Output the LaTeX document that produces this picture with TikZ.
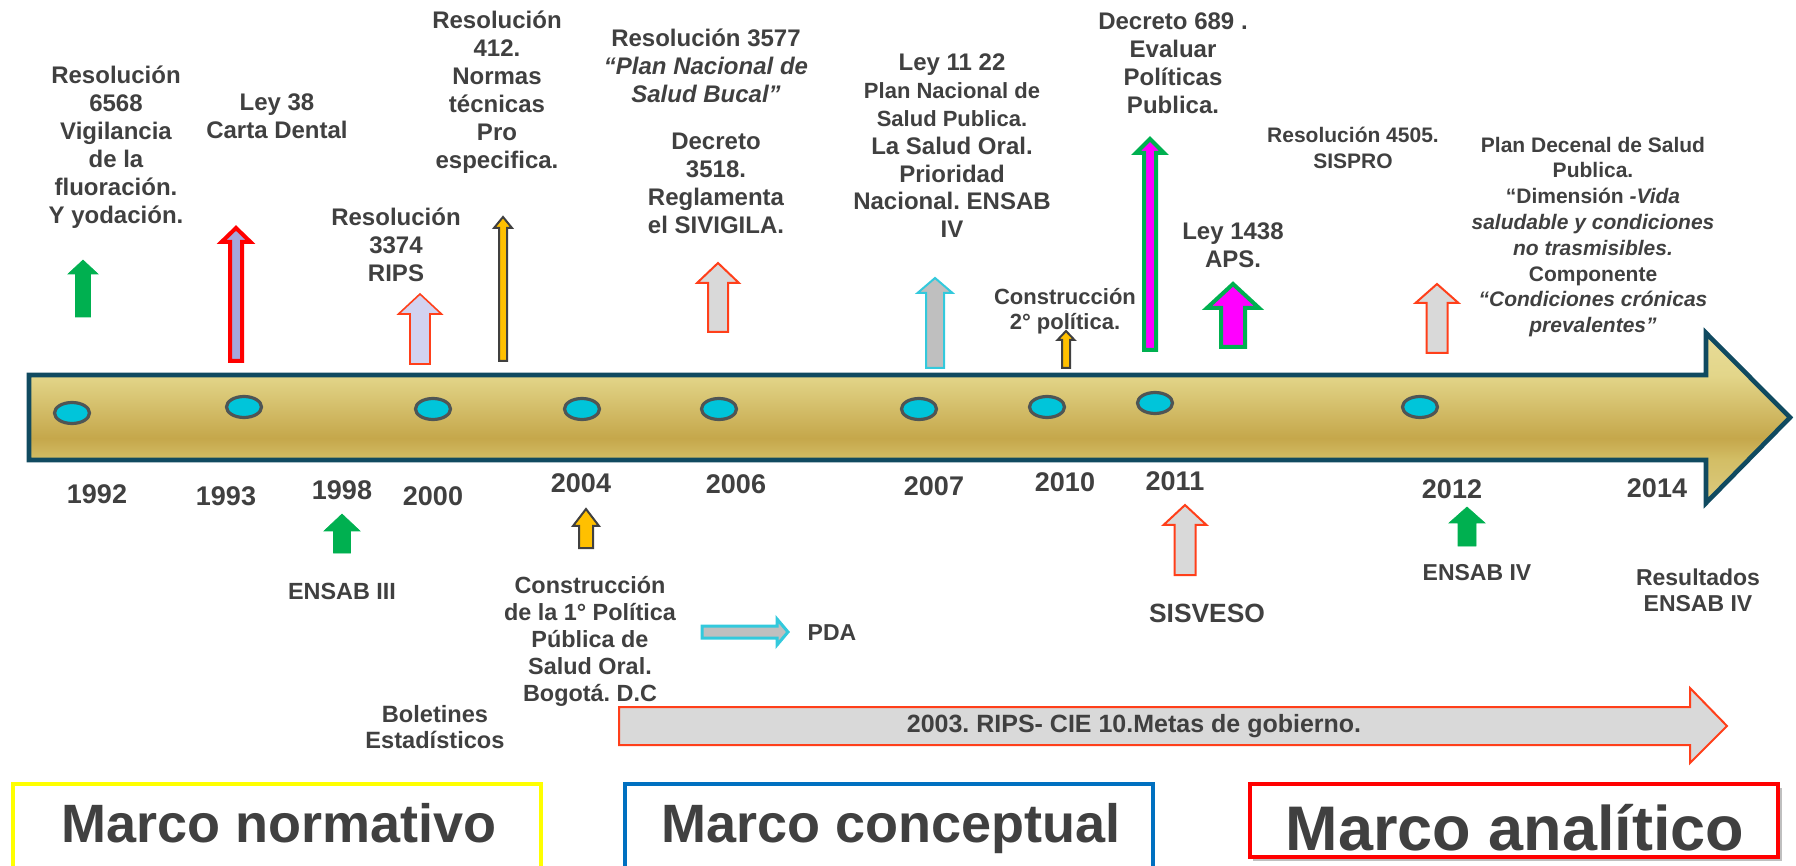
\documentclass[tikz,border=0pt]{standalone}
\usepackage{fontspec}
\setmainfont{Liberation Sans}
\usetikzlibrary{shapes.geometric}
\frenchspacing

\definecolor{txt}{HTML}{404040}
\definecolor{goldtop}{HTML}{E8DC98}
\definecolor{goldlight}{HTML}{E3D68A}
\definecolor{golddark}{HTML}{C5A74B}
\definecolor{goldlow}{HTML}{D3BE66}
\definecolor{goldbot}{HTML}{DCCB80}
\definecolor{barline}{HTML}{104A60}
\definecolor{dotfill}{HTML}{00C5DA}
\definecolor{dotline}{HTML}{4F5555}
\definecolor{agreen}{HTML}{00B050}
\definecolor{ared}{HTML}{FF0000}
\definecolor{aorange}{HTML}{FF3F1A}
\definecolor{alav}{HTML}{A6A6DC}
\definecolor{alavlight}{HTML}{D2D2F0}
\definecolor{agray}{HTML}{D9D9D9}
\definecolor{amidgray}{HTML}{BFBFBF}
\definecolor{acyan}{HTML}{33C9DC}
\definecolor{agold}{HTML}{FFC000}
\definecolor{amag}{HTML}{FF00FF}
\definecolor{boxyellow}{HTML}{FFFF00}
\definecolor{boxblue}{HTML}{0070C0}

\pgfdeclareverticalshading{goldbar}{100bp}{color(0bp)=(goldbot); color(25bp)=(goldbot); color(37.6bp)=(goldlow); color(44.1bp)=(golddark); color(62.6bp)=(goldlight); color(75bp)=(goldtop); color(100bp)=(goldtop)}

\newcommand{\fs}[2]{\fontsize{#1}{#2}\selectfont}
% block arrow pointing up: style, x, y bottom, y head base, y tip, half shaft, half head
\newcommand{\blkup}[7]{\draw[#1] (#2-#6,#3) -- (#2-#6,#4) -- (#2-#7,#4) -- (#2,#5) -- (#2+#7,#4) -- (#2+#6,#4) -- (#2+#6,#3) -- cycle;}

\tikzset{
  lbl/.style={text=txt, font=\bfseries\fs{12}{14}, align=center, inner sep=0pt},
  yr/.style={lbl, font=\bfseries\fs{13.5}{16}},
  sm/.style={lbl, font=\bfseries\fs{10.5}{12.9}},
  dot/.style={ellipse, draw=dotline, fill=dotfill, line width=1.6pt, minimum width=17.5pt, minimum height=10.5pt, inner sep=0pt},
  marco/.style={text=txt, font=\bfseries\fs{27}{30}, inner sep=0pt, anchor=base},
  grn/.style={fill=agreen, draw=agreen, line width=0.3pt},
  redlav/.style={fill=alav, draw=ared, line width=2pt},
  orlav/.style={fill=alavlight, draw=aorange, line width=0.8pt},
  gld/.style={fill=agold, draw=txt, line width=1pt},
  orgray/.style={fill=agray, draw=aorange, line width=1pt},
  cygray/.style={fill=amidgray, draw=acyan, line width=1pt},
  maggrn/.style={fill=amag, draw=agreen, line width=2pt},
}

\begin{document}
\begin{tikzpicture}[x=0.5pt, y=-0.5pt, line join=miter]
  \useasboundingbox (0,0) rectangle (1796,866);

  % timeline
  \shade[shading=goldbar] (29,375) -- (1706,375) -- (1706,333) -- (1790,417.5) -- (1706,503) -- (1706,460) -- (29,460) -- cycle;
  \draw[barline, line width=2.3pt] (29,375) -- (1706,375) -- (1706,333) -- (1790,417.5) -- (1706,503) -- (1706,460) -- (29,460) -- cycle;

  \node[dot] (d1) at (72,413) {};
  \node[dot] (d2) at (244,407) {};
  \node[dot] (d3) at (433,409) {};
  \node[dot] (d4) at (582,409) {};
  \node[dot] (d5) at (719,409) {};
  \node[dot] (d6) at (919,409) {};
  \node[dot] (d7) at (1047,407) {};
  \node[dot] (d8) at (1155,403) {};
  \node[dot] (d9) at (1420,407) {};

  % years
  \node[yr] (y1992) at (97,494) {1992};
  \node[yr] (y1993) at (226,496) {1993};
  \node[yr] (y1998) at (342,490) {1998};
  \node[yr] (y2000) at (433,496) {2000};
  \node[yr] (y2004) at (581,483) {2004};
  \node[yr] (y2006) at (736,484) {2006};
  \node[yr] (y2007) at (934,486) {2007};
  \node[yr] (y2010) at (1065,482) {2010};
  \node[yr] (y2011) at (1175,481) {2011};
  \node[yr] (y2012) at (1452,489) {2012};
  \node[yr] (y2014) at (1657,488) {2014};

  % arrows above the timeline
  \blkup{grn}{83}{317}{274}{260}{7.5}{15}
  \blkup{redlav}{236}{361}{242}{228}{6}{14.5}
  \blkup{orlav}{420}{364}{314}{294}{10}{21.5}
  \blkup{gld}{503}{361}{228}{217}{4}{9}
  \blkup{orgray}{718}{332}{283}{263}{10}{21}
  \blkup{cygray}{935}{368}{293}{278}{9}{17.5}
  \blkup{gld}{1066}{368}{340}{331}{4}{8.5}
  \blkup{maggrn}{1150}{350}{153}{139}{6}{14}
  \blkup{maggrn}{1233}{347}{308}{284}{12}{26}
  \blkup{orgray}{1437}{353}{303}{284}{10.5}{21.5}

  % arrows below the timeline
  \blkup{grn}{342}{553}{531}{514}{8.5}{18}
  \blkup{gld}{586}{548}{526}{509}{7}{13}
  \blkup{orgray}{1185}{575}{525}{505}{10.5}{21.5}
  \blkup{grn}{1467}{546}{523}{507}{9}{18}
  \draw[cygray, line width=1.5pt] (702,626) -- (777,626) -- (777,619) -- (788,632) -- (777,645) -- (777,638) -- (702,638) -- cycle;

  % texts above
  \node[lbl] (t6568) at (116,147) {Resolución\\6568\\Vigilancia\\de la\\fluoración.\\Y yodación.};
  \node[lbl] (tley38) at (277,116) {Ley 38\\Carta Dental};
  \node[lbl] (t412) at (497,92) {Resolución\\412.\\Normas\\técnicas\\Pro\\especifica.};
  \node[lbl] (t3374) at (396,245) {Resolución\\3374\\RIPS};
  \node[lbl] (t3577) at (706,66) {Resolución 3577\\\textit{“Plan Nacional de}\\\textit{Salud Bucal”}};
  \node[lbl] (t3518) at (716,183) {Decreto\\3518.\\Reglamenta\\el SIVIGILA.};
  \node[lbl, font=\bfseries\fs{12}{13.9}] (t1122) at (952,146) {Ley 11 22\\{\fs{11}{13.9}Plan Nacional de}\\{\fs{11}{13.9}Salud Publica.}\\La Salud Oral.\\Prioridad\\Nacional. ENSAB\\IV};
  \node[lbl, font=\bfseries\fs{11}{12.5}] (tconst2) at (1065,311) {Construcción\\2° política.};
  \node[lbl] (t689) at (1173,63) {Decreto 689 .\\Evaluar\\Políticas\\Publica.};
  \node[lbl] (t1438) at (1233,245) {Ley 1438\\APS.};
  \node[sm, font=\bfseries\fs{10.5}{13}] (t4505) at (1353,148) {Resolución 4505.\\SISPRO};
  \node[sm] (tdecenal) at (1593,237) {Plan Decenal de Salud\\Publica.\\“Dimensión \textit{-Vida}\\\textit{saludable y condiciones}\\\textit{no trasmisibles.}\\Componente\\\textit{“Condiciones crónicas}\\\textit{prevalentes”}};

  % texts below
  \node[lbl, font=\bfseries\fs{11.7}{13.5}] (tensab3) at (342,591) {ENSAB III};
  \node[lbl, font=\bfseries\fs{11.7}{13.5}] (tconst1) at (590,641) {Construcción\\de la 1° Política\\Pública de\\Salud Oral.\\Bogotá. D.C};
  \node[lbl, font=\bfseries\fs{11.5}{13}] (tpda) at (832,633) {PDA};
  \node[lbl, font=\bfseries\fs{13.2}{15}] (tsisveso) at (1207,613) {SISVESO};
  \node[lbl, font=\bfseries\fs{11.5}{13}] (tensab4) at (1477,573) {ENSAB IV};
  \node[lbl, font=\bfseries\fs{11.5}{13}] (tresult) at (1698,590) {Resultados\\ENSAB IV};
  \node[lbl, font=\bfseries\fs{11.8}{13}] (tbolet) at (435,727) {Boletines\\Estadísticos};

  % long arrow
  \draw[orgray] (619,707) -- (1690,707) -- (1690,688) -- (1727,726) -- (1690,763) -- (1690,745) -- (619,745) -- cycle;
  \node[lbl, font=\bfseries\fs{12.5}{14}] (trips) at (1134,726) {2003. RIPS- CIE 10.Metas de gobierno.};

  % frames
  \draw[boxyellow, line width=2pt, fill=white] (13,784) rectangle (541,880);
  \draw[boxblue, line width=1.6pt, fill=white] (625,784) rectangle (1153,880);
  \fill[black!25] (1253,788) rectangle (1782,861);
  \draw[ared, line width=2.3pt, fill=white] (1250,784) rectangle (1778,857);
  \node[marco] (mnorm) at (279,842) {Marco normativo};
  \node[marco] (mconc) at (891,842) {Marco conceptual};
  \node[marco, font=\bfseries\fs{31.5}{34}] (manal) at (1515,850) {Marco analítico};
\end{tikzpicture}
\end{document}
